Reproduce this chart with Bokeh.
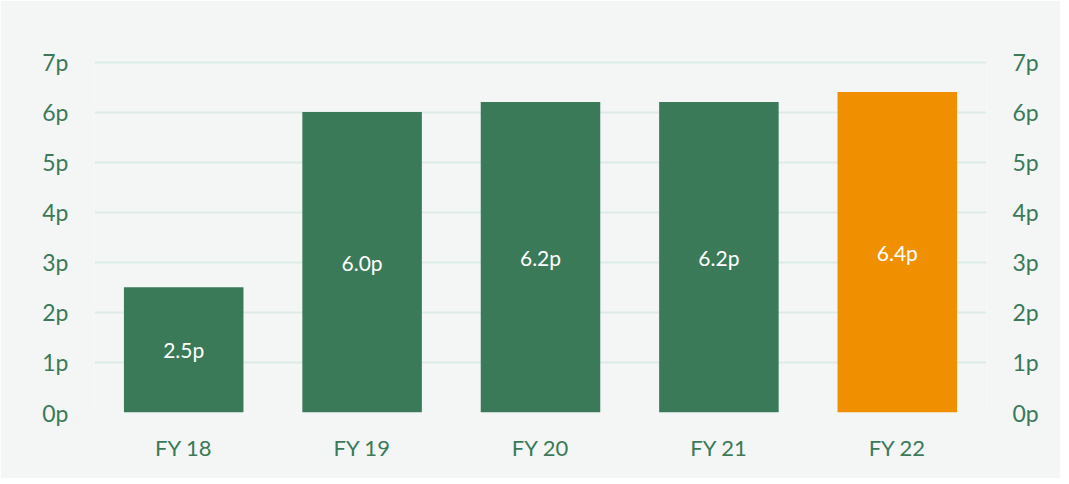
from bokeh.plotting import figure
from bokeh.models import ColumnDataSource, LinearAxis, FixedTicker, CustomJSTickFormatter, Range1d, FactorRange
from bokeh.core.properties import value
from bokeh.embed import file_html
from bokeh.resources import INLINE

categories = ["FY 18", "FY 19", "FY 20", "FY 21", "FY 22"]
values = [2.5, 6.0, 6.2, 6.2, 6.4]
labels = ["2.5p", "6.0p", "6.2p", "6.2p", "6.4p"]
colors = ["#3a7a58", "#3a7a58", "#3a7a58", "#3a7a58", "#f09000"]
y_ticks = [0, 1, 2, 3, 4, 5, 6, 7]

BG = "#f4f6f6"
GREEN = "#3a7a58"
FONT = "Lato"

src = ColumnDataSource(dict(
    cat=categories, val=values, lab=labels, col=colors,
    mid=[v / 2 for v in values],
))

p = figure(x_range=FactorRange(*categories, range_padding=0), y_range=Range1d(0, 7.03),
           width=1060, height=478, output_backend="svg", toolbar_location=None,
           min_border_left=94, min_border_right=74, min_border_top=60, min_border_bottom=66)
p.background_fill_color = BG
p.border_fill_color = BG
p.outline_line_color = None

p.vbar(x="cat", top="val", width=0.67, fill_color="col", line_color=None, source=src)
p.text(x="cat", y="mid", text="lab", source=src, text_color="white",
       text_font=value(FONT), text_font_size="21px", text_align="center", text_baseline="middle")

fmt = CustomJSTickFormatter(code="return tick + 'p';")
for ax in p.yaxis:
    ax.ticker = FixedTicker(ticks=y_ticks)
    ax.formatter = fmt
r_axis = LinearAxis(ticker=FixedTicker(ticks=y_ticks), formatter=fmt)
p.add_layout(r_axis, "right")

for ax in p.yaxis + [r_axis]:
    ax.axis_line_color = None
    ax.major_tick_line_color = None
    ax.minor_tick_line_color = None
    ax.major_label_text_color = GREEN
    ax.major_label_text_font = FONT
    ax.major_label_text_font_size = "23px"
p.yaxis[0].major_label_standoff = 20
r_axis.major_label_standoff = 20

xa = p.xaxis[0]
xa.axis_line_color = None
xa.major_tick_line_color = None
xa.major_label_text_color = GREEN
xa.major_label_text_font = FONT
xa.major_label_text_font_size = "22px"
xa.major_label_standoff = 15

p.xgrid.grid_line_color = None
p.ygrid.grid_line_color = "#dcebe4"
p.ygrid.grid_line_width = 2
p.ygrid.ticker = FixedTicker(ticks=y_ticks)

open("out.html", "w").write(file_html(p, INLINE))
